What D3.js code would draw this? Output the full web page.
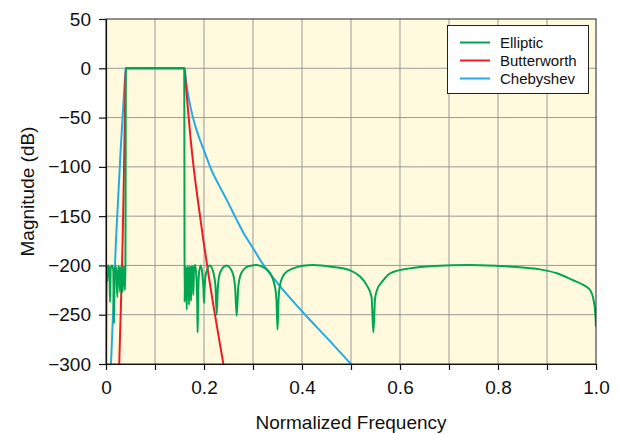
<!DOCTYPE html>
<html>
<head>
<meta charset="utf-8">
<script src="https://cdn.jsdelivr.net/npm/d3@7"></script>
<style>
  body { margin: 0; background: #fff; }
  svg { display: block; font-family: "Liberation Sans", Arial, sans-serif; }
</style>
</head>
<body>
<svg width="619" height="434"></svg>
<script>
'use strict';

// axis ticks
const xTicks = [0, 0.1, 0.2, 0.3, 0.4, 0.5, 0.6, 0.7, 0.8, 0.9, 1.0];
const xTickLabels = ['0', '', '0.2', '', '0.4', '', '0.6', '', '0.8', '', '1.0'];
const yTicks = [50, 0, -50, -100, -150, -200, -250, -300];

const seriesNames = ['Elliptic', 'Butterworth', 'Chebyshev'];

// [normalized frequency, magnitude dB]
const elliptic = [
  [0, -300], [0.0015, -200], [0.0027, -216], [0.004, -200], [0.0068, -203],
  [0.0082, -237], [0.0096, -203], [0.012, -200], [0.0148, -204], [0.0163, -259],
  [0.0178, -204], [0.0205, -201], [0.0231, -232], [0.025, -201], [0.0268, -202],
  [0.0286, -227], [0.0305, -201], [0.0322, -202], [0.034, -227], [0.0355, -201],
  [0.0372, -203], [0.0386, -225], [0.0396, -201], [0.0401, -100], [0.0405, 0],
  [0.1, 0], [0.1597, 0],
  [0.1601, -120], [0.1604, -237], [0.1615, -204], [0.163, -201], [0.1647, -245],
  [0.1662, -203], [0.1678, -201], [0.1694, -240], [0.1709, -203], [0.1722, -201],
  [0.1735, -236], [0.175, -202], [0.1765, -200.5], [0.1782, -230], [0.1798, -202],
  [0.182, -199.5], [0.1845, -212], [0.1862, -240], [0.187, -268], [0.1878, -240],
  [0.1895, -210], [0.193, -200], [0.1965, -208], [0.199, -225], [0.2, -238],
  [0.201, -225], [0.204, -208], [0.212, -200], [0.219, -207], [0.2235, -222],
  [0.2259, -250], [0.2283, -222], [0.233, -207], [0.246, -200], [0.258, -207],
  [0.2635, -222], [0.2667, -251], [0.2699, -222], [0.276, -208], [0.29, -201],
  [0.307, -199.5], [0.325, -203], [0.335, -208], [0.345, -222], [0.348, -236],
  [0.35, -265], [0.352, -236], [0.355, -220], [0.365, -208], [0.382, -203],
  [0.402, -200.3], [0.423, -199.5], [0.464, -201.6], [0.498, -205], [0.518, -211],
  [0.532, -220], [0.542, -232], [0.5456, -268], [0.549, -234], [0.5524, -226],
  [0.566, -215], [0.58, -208], [0.62, -203], [0.67, -200.5], [0.74, -199.5],
  [0.8, -200.5], [0.85, -202], [0.886, -204], [0.92, -208], [0.953, -215],
  [0.975, -220], [0.988, -225], [0.995, -235], [0.9985, -248], [1.0, -262]
];

const butterworth = [
  [0.027, -300], [0.0305, -240], [0.034, -174], [0.0365, -110], [0.0385, -50],
  [0.04, 0], [0.1, 0], [0.16, 0], [0.163, -17], [0.167, -40], [0.172, -68],
  [0.18, -105], [0.19, -143], [0.1986, -174], [0.21, -212], [0.22, -243],
  [0.2395, -300]
];

const chebyshev = [
  [0.0102, -300], [0.0204, -174], [0.03, -82], [0.036, -32], [0.0395, -5],
  [0.0405, 0], [0.1, 0], [0.1605, 0], [0.163, -12], [0.168, -28], [0.175, -45],
  [0.185, -63], [0.195, -77], [0.202, -86], [0.215, -103], [0.23, -118],
  [0.249, -136], [0.265, -152], [0.284, -170], [0.302, -184], [0.314, -194],
  [0.35, -218], [0.4027, -248], [0.4537, -275], [0.5, -300]
];

(() => {
  const colors = { Elliptic: '#00a651', Butterworth: '#ed1c24', Chebyshev: '#27aae1' };
  const series = { Elliptic: elliptic, Butterworth: butterworth, Chebyshev: chebyshev };

  const left = 106, right = 596, top = 19, bottom = 364;
  var x = d3.scaleLinear().domain([0, 1]).range([left, right]);
  var y = d3.scaleLinear().domain([-300, 50]).range([bottom, top]);

  var svg = d3.select('svg');

  svg.append('defs').append('clipPath').attr('id', 'plotclip')
    .append('rect')
      .attr('x', left).attr('y', top)
      .attr('width', right - left).attr('height', bottom - top);

  svg.append('rect')
    .attr('x', left).attr('y', top)
    .attr('width', right - left).attr('height', bottom - top)
    .attr('fill', '#fffadd');

  // grid
  var grid = svg.append('g').attr('stroke', '#999').attr('stroke-width', 1);
  grid.selectAll('line.v').data(xTicks.slice(1, -1)).enter().append('line')
    .attr('class', 'v')
    .attr('x1', d => x(d)).attr('x2', d => x(d))
    .attr('y1', top).attr('y2', bottom);
  grid.selectAll('line.h').data(yTicks.slice(1, -1)).enter().append('line')
    .attr('class', 'h')
    .attr('x1', left).attr('x2', right)
    .attr('y1', d => y(d)).attr('y2', d => y(d));

  // curves
  var line = d3.line()
    .x(d => x(d[0]))
    .y(d => y(d[1]))
    .curve(d3.curveMonotoneX);

  var plot = svg.append('g').attr('clip-path', 'url(#plotclip)');
  ['Chebyshev', 'Butterworth', 'Elliptic'].forEach(name => {
    plot.append('path')
      .datum(series[name])
      .attr('fill', 'none')
      .attr('stroke', colors[name])
      .attr('stroke-width', 2)
      .attr('stroke-linejoin', 'round')
      .attr('d', line);
  });

  // frame
  svg.append('rect')
    .attr('x', left).attr('y', top)
    .attr('width', right - left).attr('height', bottom - top)
    .attr('fill', 'none').attr('stroke', '#222').attr('stroke-width', 1);

  var xAxis = svg.append('g')
    .attr('transform', `translate(0, ${bottom})`)
    .call(d3.axisBottom(x)
      .tickValues(xTicks)
      .tickFormat((d, i) => xTickLabels[i])
      .tickSize(6).tickSizeOuter(0).tickPadding(11));

  var yAxis = svg.append('g')
    .attr('transform', `translate(${left}, 0)`)
    .call(d3.axisLeft(y)
      .tickValues(yTicks)
      .tickSize(7).tickSizeOuter(0).tickPadding(8));

  [xAxis, yAxis].forEach(g => {
    g.attr('font-family', null).attr('font-size', 19);
    g.selectAll('text').attr('fill', '#111');
    g.selectAll('line, path').attr('stroke', '#111').attr('stroke-width', 1.2);
  });

  svg.append('text')
    .attr('x', (left + right) / 2).attr('y', 429)
    .attr('text-anchor', 'middle')
    .attr('font-size', 19).attr('fill', '#111')
    .text('Normalized Frequency');

  svg.append('text')
    .attr('transform', `translate(34, ${(top + bottom) / 2}) rotate(-90)`)
    .attr('text-anchor', 'middle')
    .attr('font-size', 19).attr('fill', '#111')
    .text('Magnitude (dB)');

  // legend
  var legend = svg.append('g');
  legend.append('rect')
    .attr('x', 447.5).attr('y', 25.5).attr('width', 141).attr('height', 68)
    .attr('fill', '#fff').attr('stroke', '#222');
  var item = legend.selectAll('g.item').data(seriesNames).enter().append('g')
    .attr('class', 'item')
    .attr('transform', (d, i) => `translate(0, ${42.5 + i * 18})`);
  item.append('line')
    .attr('x1', 460).attr('x2', 490)
    .attr('stroke', d => colors[d]).attr('stroke-width', 2);
  item.append('text')
    .attr('x', 500).attr('dy', '0.35em')
    .attr('font-size', 15).attr('fill', '#111')
    .text(d => d);
})();
</script>
</body>
</html>
